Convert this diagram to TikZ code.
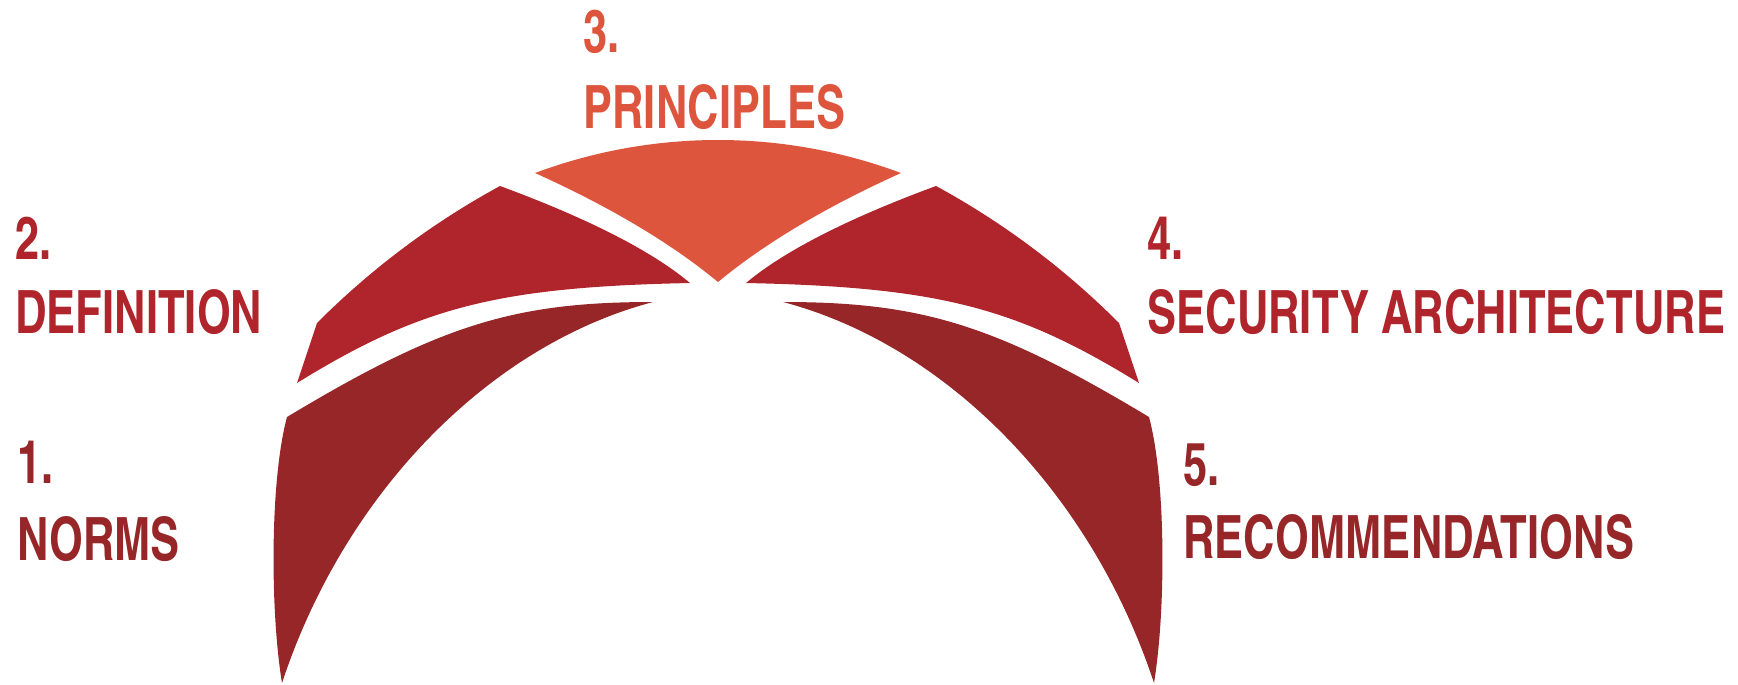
\documentclass[tikz,border=0pt]{standalone}
\usepackage{fontspec}
\usepackage{xcolor}
\usepackage{graphicx}
\usepackage{tikz}
\usetikzlibrary{positioning}
\newfontfamily\labelfont{texgyreheroscn-bold}[Extension=.otf]
\newcommand{\cond}[1]{\scalebox{0.89}[1]{#1}}
\definecolor{normred}{HTML}{962628}
\definecolor{defred}{HTML}{AF252B}
\definecolor{prinorange}{HTML}{DE553E}
\tikzset{
  lbl/.style   ={anchor=base west, inner sep=0pt, font=\labelfont\fontsize{34}{40}\selectfont},
  piece/.style ={draw=none}
}

\begin{document}
\begin{tikzpicture}[x=0.02cm, y=-0.02cm]
    \useasboundingbox (0,0) rectangle (1738,684);
    % top piece
    \fill[piece, prinorange] (535,173) .. controls (653,129) and (783,129) .. (901,173)
      .. controls (826.6,206.5) and (764.7,243.3) .. (718,282)
      .. controls (671.3,243.3) and (609.4,206.5) .. (535,173) -- cycle;
    % side pieces (left, then mirrored right)
    \foreach \sx/\dx in {1/0, -1/1436} {
      \begin{scope}[shift={(\dx,0)}, xscale=\sx]
        % lower piece
        \fill[piece, normred] (287,417) .. controls (440,325) and (514,302) .. (653,302)
          .. controls (490,345) and (345,492) .. (282,683)
          .. controls (270,610) and (270,480) .. (287,417) -- cycle;
        % upper piece
        \fill[piece, defred] (500,186) .. controls (587,218) and (652,251) .. (690,283)
          .. controls (498,287) and (420,307) .. (297,383)
          -- (317,323)
          .. controls (371,269) and (432,223) .. (500,186) -- cycle;
      \end{scope}
    }
    % labels
    \node[lbl, text=normred] (num1) at (17,483) {\cond{1.}};
    \node[lbl, text=normred] (norms) at (17,560) {\cond{NORMS}};
    \node[lbl, text=defred] (num2) at (15,259) {\cond{2.}};
    \node[lbl, text=defred] (definition) at (15,333) {\cond{DEFINITION}};
    \node[lbl, text=prinorange] (num3) at (583,52) {\cond{3.}};
    \node[lbl, text=prinorange] (principles) at (583,128) {\cond{PRINCIPLES}};
    \node[lbl, text=defred] (num4) at (1147,259) {\cond{4.}};
    \node[lbl, text=defred] (secarch) at (1147,333) {\cond{SECURITY ARCHITECTURE}};
    \node[lbl, text=normred] (num5) at (1183,485) {\cond{5.}};
    \node[lbl, text=normred] (recomm) at (1183,558) {\cond{RECOMMENDATIONS}};
  \end{tikzpicture}
\end{document}
